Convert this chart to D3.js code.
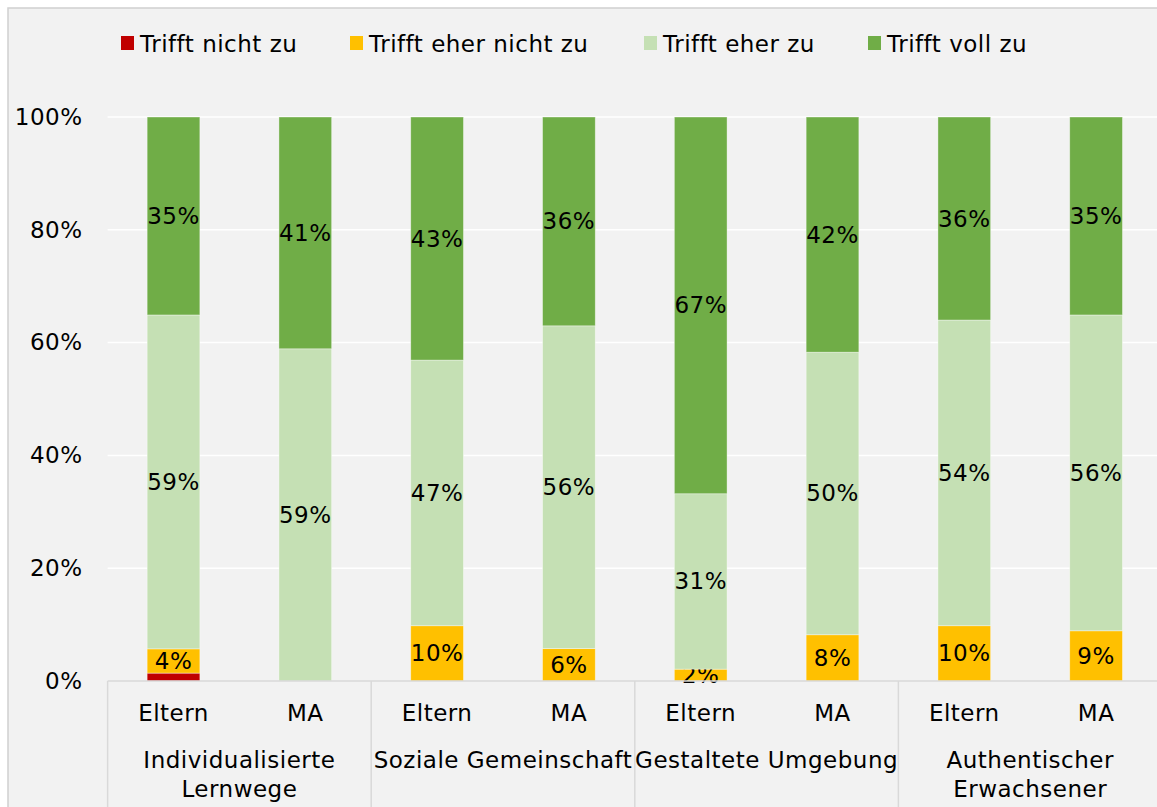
<!DOCTYPE html>
<html>
<head>
<meta charset="utf-8">
<script src="https://cdn.jsdelivr.net/npm/d3@7"></script>
<style>
  body { margin: 0; background: #fff; }
  text { font-family: "DejaVu Sans", Verdana, sans-serif; fill: #000; letter-spacing: 0.5px; }
</style>
</head>
<body>
<div id="chart"></div>
<script>
// groups and bars
const groups = ['Individualisierte Lernwege', 'Soziale Gemeinschaft', 'Gestaltete Umgebung', 'Authentischer Erwachsener'];
const groupLines = [['Individualisierte', 'Lernwege'], ['Soziale Gemeinschaft'], ['Gestaltete Umgebung'], ['Authentischer', 'Erwachsener']];
const subgroups = ['Eltern', 'MA'];
const seriesNames = ['Trifft nicht zu', 'Trifft eher nicht zu', 'Trifft eher zu', 'Trifft voll zu'];
const colors = ['#c00000', '#ffc000', '#c5e0b4', '#70ad47'];

// raw percentages per bar (Eltern, MA for each group)
const nichtZu      = [1.4, 0,    0,    0,    0,    0,    0,    0];
const eherNichtZu  = [4.3, 0,    9.8,  5.6,  2.1,  8.2,  9.8,  8.9];
const eherZu       = [59.2, 58.9, 47.1, 55.8, 31.1, 50.1, 54.2, 56.0];
const vollZu       = [35.1, 41.1, 43.1, 36.1, 66.8, 41.7, 36.0, 35.1];
const yTicks = [0, 0.2, 0.4, 0.6, 0.8, 1];

const width = 1157, height = 807;
const plot = { left: 107.6, right: 1162, top: 117, bottom: 681 };
const fontSize = '23px';

const bars = [];
groups.forEach((g, gi) => {
  subgroups.forEach((s, si) => {
    const i = gi * 2 + si;
    bars.push({ key: g + '|' + s, group: g, sub: s, values: [nichtZu[i], eherNichtZu[i], eherZu[i], vollZu[i]] });
  });
});

const svg = d3.select('#chart').append('svg')
  .attr('width', width).attr('height', height);

// chart area background + border (cropped on right / bottom)
svg.append('rect')
  .attr('x', 8).attr('y', 8)
  .attr('width', width + 20).attr('height', height + 20)
  .attr('fill', '#f2f2f2')
  .attr('stroke', '#d0d0d0').attr('stroke-width', 1.5);

const x = d3.scaleBand()
  .domain(bars.map(d => d.key))
  .range([plot.left, plot.right])
  .paddingInner(0.6).paddingOuter(0.3);

const y = d3.scaleLinear().domain([0, 1]).range([plot.bottom, plot.top]);

// gridlines
svg.append('g')
  .selectAll('line')
  .data(yTicks.slice(1))
  .join('line')
    .attr('x1', plot.left).attr('x2', width)
    .attr('y1', d => y(d)).attr('y2', d => y(d))
    .attr('stroke', '#ffffff').attr('stroke-width', 1.5);

// y axis labels
const yAxis = svg.append('g')
  .attr('transform', `translate(${plot.left - 25},0)`)
  .call(d3.axisLeft(y).tickValues(yTicks).tickFormat(d3.format('.0%')).tickSize(0).tickPadding(0));
yAxis.select('.domain').remove();
yAxis.selectAll('text')
  .style('font-family', '"DejaVu Sans", Verdana, sans-serif')
  .style('font-size', fontSize).attr('fill', '#000');

// stack (100% stacked)
const table = bars.map(b => {
  const o = { key: b.key };
  seriesNames.forEach((n, i) => o[n] = b.values[i]);
  return o;
});
const stacked = d3.stack().keys(seriesNames).offset(d3.stackOffsetExpand)(table);

const layers = svg.append('g')
  .selectAll('g')
  .data(stacked)
  .join('g')
    .attr('fill', (d, i) => colors[i]);

layers.selectAll('rect')
  .data(d => d.filter(p => p[1] - p[0] > 0))
  .join('rect')
    .attr('x', d => x(d.data.key))
    .attr('width', x.bandwidth())
    .attr('y', d => y(d[1]))
    .attr('height', d => y(d[0]) - y(d[1]))
    .attr('stroke', '#ffffff').attr('stroke-opacity', 0.5).attr('stroke-width', 0.75);

// data labels (skip red series and zero values)
layers.filter((d, i) => i > 0)
  .selectAll('text')
  .data(d => d.filter(p => p[1] - p[0] > 0).map(p => ({ p, key: d.key })))
  .join('text')
    .attr('x', d => x(d.p.data.key) + x.bandwidth() / 2)
    .attr('y', d => y((d.p[0] + d.p[1]) / 2))
    .attr('text-anchor', 'middle')
    .attr('dominant-baseline', 'central')
    .style('font-size', fontSize)
    .attr('fill', '#000')
    .text(d => Math.round(d.p.data[d.key]) + '%');

// x axis line + separators
const axisColor = '#d9d9d9';
svg.append('line')
  .attr('x1', plot.left).attr('x2', width)
  .attr('y1', plot.bottom).attr('y2', plot.bottom)
  .attr('stroke', axisColor).attr('stroke-width', 1.5);

const groupWidth = (plot.right - plot.left) / groups.length;
svg.append('g')
  .selectAll('line')
  .data(d3.range(groups.length + 1))
  .join('line')
    .attr('x1', i => plot.left + i * groupWidth).attr('x2', i => plot.left + i * groupWidth)
    .attr('y1', plot.bottom).attr('y2', height)
    .attr('stroke', axisColor).attr('stroke-width', 1.5);

// sub labels
svg.append('g')
  .selectAll('text')
  .data(bars)
  .join('text')
    .attr('x', d => x(d.key) + x.bandwidth() / 2)
    .attr('y', 721)
    .attr('text-anchor', 'middle')
    .style('font-size', fontSize)
    .text(d => d.sub);

// group labels
const gl = svg.append('g')
  .selectAll('text')
  .data(groupLines)
  .join('text')
    .attr('x', (d, i) => plot.left + (i + 0.5) * groupWidth)
    .attr('y', 768)
    .attr('text-anchor', 'middle')
    .style('font-size', fontSize);
gl.selectAll('tspan')
  .data(d => d)
  .join('tspan')
    .attr('x', function() { return d3.select(this.parentNode).attr('x'); })
    .attr('dy', (d, i) => i === 0 ? 0 : 29)
    .text(d => d);

// legend
const legendX = [121, 350, 644, 868];
const legend = svg.append('g')
  .selectAll('g')
  .data(seriesNames)
  .join('g')
    .attr('transform', (d, i) => `translate(${legendX[i]},0)`);
legend.append('rect')
  .attr('x', 0).attr('y', 36)
  .attr('width', 13).attr('height', 14)
  .attr('fill', (d, i) => colors[i]);
legend.append('text')
  .attr('x', 19).attr('y', 52)
  .style('font-size', fontSize)
  .text(d => d);
</script>
</body>
</html>
